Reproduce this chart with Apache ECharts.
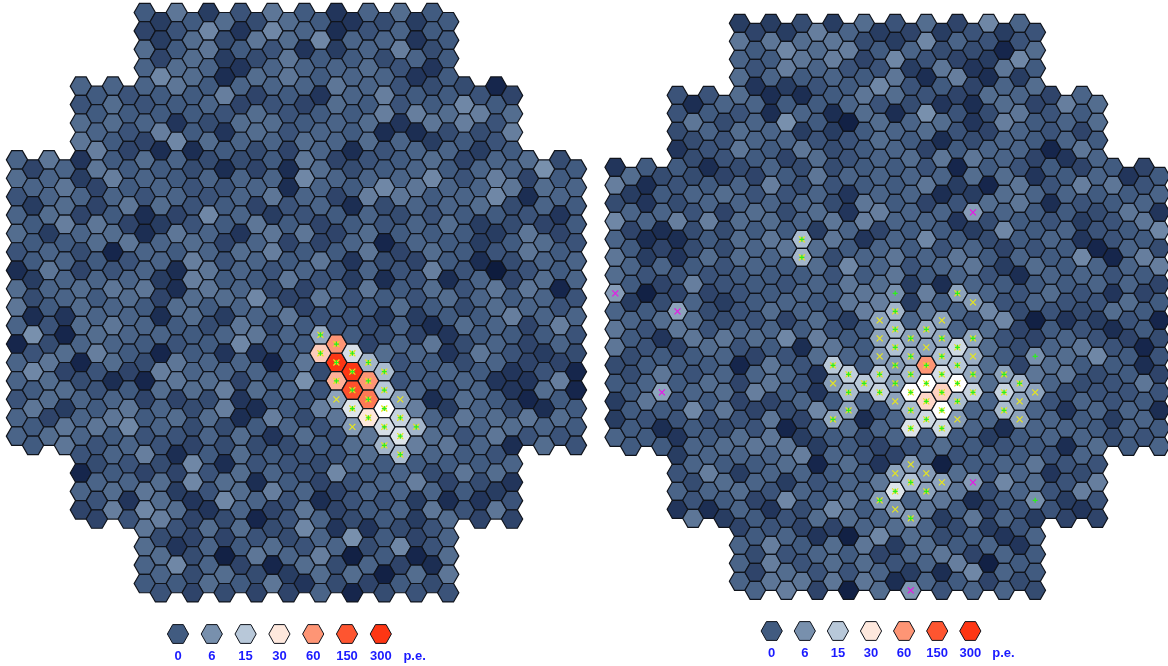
<!DOCTYPE html>
<html><head><meta charset="utf-8">
<style>html,body{margin:0;padding:0;background:#fff}#c{width:1168px;height:666px}</style>
<script src="https://cdn.jsdelivr.net/npm/echarts@6/dist/echarts.min.js"></script>
</head><body><div id="c"></div>
<script>
// Photo-electron values per pixel, listed per camera row (k); even and odd columns apart.
const leftEven = [
[0,3,-4,-1,3,0,-5,1,2,0],[-3,-1,5,-5,5,1,-6,-1,1,0],[2,0,3,0,-1,-5,-4,1,4,-2],[1,2,1,-5,1,1,1,2,-1,-5],
[1,1,1,3,0,1,1,1,3,1,-1,-2,-2,-7],[-1,2,-1,0,1,-3,-1,-3,2,0,-1,0,5,0],[2,2,1,-5,-2,2,2,0,1,2,-5,3,4,-1],[3,0,-3,5,2,1,1,2,1,2,1,-4,0,-1],
[1,3,-5,0,2,1,-2,-2,0,3,-3,-1,0,2,-3,1,2,-2],[2,1,-4,4,1,0,1,1,1,5,1,1,1,5,-1,4,-3,0],[-1,1,1,1,-1,1,-1,1,3,1,-3,4,3,0,1,5,-6,1],
[1,2,-3,0,-6,-3,5,1,-4,-1,0,1,-2,-1,0,0,-1,-5],[2,-4,1,2,-6,3,1,-5,3,3,-3,2,0,0,0,-4,3,-3],[-1,1,-2,-7,1,0,1,2,4,0,0,3,-3,2,0,-1,3,0],
[-6,3,-3,-1,1,-6,3,1,-1,1,-1,1,-1,4,-1,-9,-1,0],[2,1,2,3,3,-6,3,1,-2,-3,1,3,0,2,-1,3,3,-7],[3,0,2,1,0,2,0,1,1,-3,0,0,2,0,-2,2,1,-1],
[1,-1,2,3,1,0,-2,3,-2,0,-1,-2,1,-6,2,1,-3,4],[-7,-2,1,1,0,-1,0,5,-1,0,60,-3,1,3,-2,1,-3,1],[1,3,-7,2,-2,3,1,1,-7,3,300,12,-1,0,-2,1,-3,-3],
[1,2,-2,-6,-7,3,2,-3,0,6,50,60,-1,0,1,-5,-5,4],[-1,2,1,1,-3,-3,-2,-5,0,-1,9,100,9,-6,2,0,-7,0],[1,-3,1,3,0,2,2,-6,4,-2,3,30,17,1,3,2,3,2],[1,2,1,0,-1,-1,1,2,-5,2,-1,3,20,2,-1,3,-1,-1],
[-1,1,4,-6,0,2,0,-1,-1,2,13,1,0,-1],[-7,0,-3,-3,-1,2,1,-1,5,0,1,-2,3,2],[1,2,3,-4,-1,2,4,1,-3,1,1,1,0,-4],[-3,4,5,2,-5,1,-3,3,-3,0,1,3,-1,3],
[3,-1,2,2,-2,5,-5,-5,-2,-1],[2,-5,1,0,2,-1,1,-2,5,-1],[1,5,1,-3,-7,2,-2,1,-3,-6],[0,0,2,0,3,-5,-2,-3,0,-2]];
const leftOdd = [
[-4,0,2,-2,2,0,-5,-2,-4,0],[-4,2,-2,3,2,5,1,1,-5,0],[-3,2,-4,-2,3,0,0,-2,1,0],[5,2,-6,2,3,0,1,1,-5,0],
[0,-1,0,0,4,-3,0,-5,1,4,0,0,-1,-3],[0,0,0,0,-1,2,-1,0,0,4,4,2,4,2],[1,-1,4,0,-5,2,-1,1,0,-6,-6,-2,-2,4],[4,-3,-6,-6,0,-2,-3,1,-6,-1,1,1,-4,0],
[-3,1,3,0,0,-2,-6,-3,-6,2,-2,0,1,0,1,1,6,0],[1,3,-3,0,1,-1,-1,1,-6,1,0,5,3,1,1,3,2,1],[-4,2,-3,3,2,-1,0,-3,-1,1,-6,-2,1,1,2,-2,1,0],
[0,4,3,-3,-4,-1,0,3,0,-3,0,-1,1,2,-4,-2,-3,0],[0,0,2,3,1,2,-3,1,-3,-3,1,-7,1,0,-4,0,2,-1],[0,1,0,-1,1,4,-1,1,0,3,-5,-2,-3,0,-6,-2,1,1],
[-4,1,1,1,-4,4,0,0,3,-1,-4,-6,-1,-6,1,-3,2,1],[-2,1,0,2,-3,2,2,5,-3,3,-1,0,-1,2,1,0,1,-1],[-6,-5,1,1,-6,2,-4,1,3,-1,-1,-4,-4,0,0,4,1,1],
[6,-7,2,1,1,0,1,3,1,10,0,-2,-3,-5,0,0,0,-1],[-1,2,4,0,-7,0,-5,-5,0,40,19,2,1,-5,3,-1,-4,-2],[5,-3,-1,-3,4,1,1,1,0,-2,300,13,0,1,0,-5,-1,-7],
[0,2,-1,0,2,2,4,2,1,-1,170,15,1,-1,1,-5,2,-7],[3,-4,0,3,1,-2,4,-6,0,4,20,26,4,-4,1,-2,-6,0],[0,3,3,5,1,-2,-2,0,1,-1,8,19,12,1,1,2,1,0],[0,3,-1,1,-1,-3,-2,-2,-2,0,2,12,4,3,1,-6,2,-1],
[-2,-1,-2,5,-6,-1,-1,-2,1,0,0,0,0,1],[1,1,2,5,2,-6,0,-3,-1,1,4,-3,-2,-5],[-1,-5,2,-5,5,1,-1,-6,-1,-1,-4,-6,-5,-1],[-3,-1,4,-3,-2,-7,-1,1,-2,0,-4,2,-3,-3],
[-2,-3,-3,-1,-2,1,6,0,-3,1],[2,-2,-8,3,1,4,-8,0,-7,2],[1,-2,2,-2,-4,2,2,-8,2,3],[-1,-3,-2,-3,-3,1,-7,-2,-1,-1]];
const rightEven = [
[-4,-4,-2,-4,2,-1,2,-3,5,1],[3,3,2,3,-2,-4,5,1,-1,-1],[1,0,3,4,-3,5,-1,-3,-4,5],[2,1,0,1,0,3,-6,4,-6,-4],
[-1,-1,2,-6,-6,0,3,2,-1,-3,2,1,-3,1],[-1,0,-1,-6,1,-6,2,-6,6,-1,-2,3,-1,0],[-2,1,2,1,-4,-4,0,1,2,-1,-3,1,-1,-3],[-5,-1,3,0,3,-2,0,1,-3,0,1,1,-7,3],
[-5,0,0,-6,-2,1,-2,-2,0,0,-1,-7,0,-1,0,-3,0,-3],[4,-6,-1,0,1,4,-2,-1,0,0,3,-4,-7,3,-1,4,3,-1],[-2,-5,-2,1,1,1,1,-2,3,0,-3,-1,2,3,-6,-1,0,1],
[5,1,4,4,2,2,1,3,4,1,1,-5,-2,0,-1,-4,-1,3],[1,-6,-6,0,2,3,13,3,-5,1,5,0,-2,0,1,-5,-1,0],[3,-4,-5,2,2,1,12,-2,1,3,1,3,0,1,0,5,-7,4],
[2,-1,-1,-1,0,0,0,-1,0,3,0,1,-1,-6,1,1,-1,0],[8,-8,-3,-3,-1,0,1,0,3,6,4,9,1,-1,2,-1,-5,-3],[1,0,9,-2,-1,2,1,-1,4,12,3,1,5,-2,-1,-2,2,0],
[3,-1,3,-1,1,1,0,-1,0,13,11,1,2,-3,0,-1,-6,0],[3,-1,-3,2,-1,0,-6,3,0,14,9,18,2,-2,1,3,-1,-7],[-2,0,0,0,-7,3,-1,15,0,8,60,15,2,-3,2,0,0,-6],
[0,1,0,2,-3,3,-1,8,15,9,26,26,2,12,1,-2,-1,3],[-4,3,-1,0,-3,-3,1,0,1,9,36,13,1,9,-1,1,-1,0],[-4,-1,-1,-1,-1,3,-3,10,-6,1,18,8,1,9,1,0,-4,1],[1,0,-5,0,2,3,-4,0,-2,1,1,0,-4,0,1,1,-2,-1],
[-4,1,1,1,4,1,-1,-3,1,-1,0,0,-1,1],[-1,4,-4,1,1,0,0,9,8,2,-1,1,-5,-2],[1,1,2,-1,1,0,1,20,9,3,-2,1,-1,4],[-5,-6,1,-5,-2,5,0,7,3,0,-3,-1,-1,-5],
[-3,-1,-3,-3,1,2,1,-2,-4,-1],[1,4,0,2,3,-4,2,0,1,-5],[1,4,-1,2,2,-1,1,4,-8,0],[1,3,3,3,3,-6,1,0,-3,-2]];
const rightOdd = [
[-3,-4,4,1,-4,-3,-4,-1,-4,-1],[0,5,2,4,0,1,-2,-2,-7,2],[-1,4,1,-1,-1,-4,3,-5,3,0],[-5,-4,-1,0,5,-1,0,-3,1,2],
[-6,1,1,0,0,1,-1,-2,-5,-6,2,-3,4,2],[3,-2,1,6,0,-8,2,1,2,-5,4,0,1,2],[-2,-1,1,1,-1,-1,2,0,-6,-2,1,0,1,0],[-2,-1,0,-3,2,-1,1,2,3,3,1,-3,-5,1],
[2,-2,-2,-3,-3,0,3,1,1,1,1,2,2,-5,0,1,-5,0],[-4,0,1,2,-1,-1,1,-5,1,1,-6,-4,2,1,1,0,0,1],[1,1,-1,-3,2,-2,2,-5,4,1,1,8,1,0,0,-2,3,-5],
[-3,-6,-2,-2,0,0,-4,1,-3,0,0,-4,5,0,1,-1,0,5],[0,-3,-2,-2,1,3,2,0,1,0,-1,1,-3,-1,0,-7,1,-2],[1,1,0,-1,1,0,2,5,1,-1,1,3,-4,2,0,1,1,4],
[0,-3,4,-1,0,-1,1,3,2,-4,-6,1,0,0,0,1,1,-3],[-4,-2,1,-4,0,1,0,3,4,-4,0,8,-1,1,-1,-1,2,0],[1,2,2,-2,-1,-3,2,-4,9,1,9,-1,5,-8,-5,-4,-1,-7],
[0,-5,3,3,2,5,4,0,9,9,10,10,-1,-3,1,-1,-3,-2],[-2,0,0,1,-3,-1,2,1,8,11,14,11,0,6,2,5,0,-1],[-2,3,-1,1,1,1,-5,16,15,13,19,10,9,3,3,-2,0,-3],
[0,9,1,2,4,0,-5,13,17,26,38,17,17,9,-2,-1,-1,-1],[0,0,5,3,-3,-2,5,9,-1,13,26,1,13,1,-5,1,1,-6],[0,-6,0,-2,-1,-7,0,2,1,20,18,1,-6,1,1,0,1,0],[0,0,1,2,3,3,-4,0,-3,-1,2,0,-1,0,-6,2,0,1],
[1,0,0,2,-7,2,-5,8,-8,0,1,3,-1,-1],[-2,2,1,-4,-1,1,3,14,9,8,5,2,-1,4],[-1,0,-3,5,0,3,8,1,3,-6,0,6,-4,-1],[3,-4,0,-1,2,2,1,8,-4,3,1,-4,-3,-3],
[0,1,-5,-8,5,2,-2,0,-5,1],[-2,-1,1,0,-3,1,3,-3,1,0],[-3,2,-1,-1,1,-4,-6,5,1,0],[1,4,-3,-8,2,7,-1,1,1,-2]];

// Marked pixels as [column, row]
const leftCross = [[19,17],[20,18],[19,18],[21,18],[20,19],[22,19],[21,19],[23,19],[20,20],[22,20],[21,20],[23,20],[20,21],[22,21],[24,21],[21,21],[23,21],[22,22],[24,22],[21,22],[23,22],[25,22],[24,23],[23,23],[24,24]];
const leftPlus = [[19,17],[20,18],[19,18],[21,18],[20,19],[22,19],[21,19],[23,19],[20,20],[22,20],[21,20],[23,20],[22,21],[21,21],[23,21],[22,22],[24,22],[23,22],[25,22],[24,23],[23,23],[24,24]];
const rightCross = [[12,12],[12,13],[17,16],[17,17],[17,18],[14,19],[15,19],[17,19],[14,20],[16,20],[15,20],[17,20],[15,21],[14,22],[22,15],[23,15],[18,16],[21,16],[18,17],[20,17],[19,17],[21,17],[23,17],[18,18],[20,18],[22,18],[19,18],[21,18],[23,18],[18,19],[20,19],[22,19],[19,19],[21,19],[23,19],[25,19],[18,20],[20,20],[22,20],[26,20],[19,20],[21,20],[23,20],[25,20],[27,20],[18,21],[20,21],[22,21],[26,21],[19,21],[21,21],[25,21],[20,22],[22,22],[26,22],[19,22],[21,22],[19,24],[18,25],[20,25],[19,25],[21,25],[18,26],[20,26],[17,26],[18,27],[19,27]];
const rightPlus = [[18,15],[27,18],[27,26],[12,12],[12,13],[14,19],[15,19],[17,19],[16,20],[15,20],[17,20],[15,21],[14,22],[22,15],[18,16],[18,17],[20,17],[19,17],[21,17],[23,17],[18,18],[22,18],[19,18],[21,18],[18,19],[20,19],[22,19],[19,19],[21,19],[23,19],[25,19],[18,20],[20,20],[22,20],[26,20],[19,20],[21,20],[23,20],[25,20],[20,21],[22,21],[19,21],[21,21],[25,21],[20,22],[19,22],[21,22],[19,25],[18,26],[20,26],[17,26],[19,27]];
const rightMagenta = [[0,15],[4,16],[3,20],[23,10],[23,25],[19,31]];

const legendValues = [0,6,15,30,60,150,300];
const legendLabels = ['0','6','15','30','60','150','300','p.e.'];

const colorStops = [[-9,[14,28,62]],[-7,[22,38,76]],[0,[65,91,128]],[6,[120,144,173]],[15,[184,200,217]],[20,[221,228,234]],[26,[255,255,255]],[30,[254,232,221]],[60,[254,149,117]],[150,[254,85,48]],[300,[254,54,20]]];
function colorOf(v){
  if(v<=colorStops[0][0]) return 'rgb('+colorStops[0][1]+')';
  for(let i=1;i<colorStops.length;i++){
    const a=colorStops[i-1],b=colorStops[i];
    if(v<=b[0]){const t=(v-a[0])/(b[0]-a[0]);
      return 'rgb('+a[1].map((x,j)=>Math.round(x+(b[1][j]-x)*t))+')';}
  }
  return 'rgb('+colorStops[colorStops.length-1][1]+')';
}
const firstCol = {10:8,14:4,18:0};
function cells(even,odd){
  const out=[];
  even.forEach((row,k)=>row.forEach((v,i)=>out.push([firstCol[row.length]+2*i,k,v])));
  odd.forEach((row,k)=>row.forEach((v,i)=>out.push([firstCol[row.length]+1+2*i,k+0.5,v])));
  return out;
}
const place = list => list.map(([c,k])=>[c,c%2?k+0.5:k]);
function hexPoly(cx,cy,r,h){return [[cx-r,cy],[cx-r/2,cy-h],[cx+r/2,cy-h],[cx+r,cy],[cx+r/2,cy+h],[cx-r/2,cy+h]];}
function renderHex(p,api){
  const pt=api.coord([api.value(0),api.value(1)]);
  const r=api.size([1,0])[0]/1.5, h=api.size([0,1])[1]/2;
  return {type:'polygon',shape:{points:hexPoly(pt[0],pt[1],r,h)},
    style:{fill:colorOf(api.value(2)),stroke:'#10141c',lineWidth:1.2}};
}
function renderLegendHex(p,api){
  const pt=api.coord([api.value(0),0]);
  return {type:'polygon',shape:{points:hexPoly(pt[0],pt[1],10.6,9.4)},
    style:{fill:colorOf(api.value(1)),stroke:'#10141c',lineWidth:1}};
}
const xMark='path://M0,0L10,10M10,0L0,10', plusMark='path://M5,0L5,10M0,5L10,5';
function marks(data,idx,symbol,color,size){
  return {type:'scatter',xAxisIndex:idx,yAxisIndex:idx,data:place(data),symbol:symbol,symbolSize:size,silent:true,
    itemStyle:{color:'none',borderColor:color,borderWidth:1.2,opacity:1},z:5};
}
const LY='#e6e61e', LG='#2cf01a', MG='#e619e6';
const valueAxisHidden={type:'value',show:false,scale:false};
const chart=echarts.init(document.getElementById('c'),null,{renderer:'canvas'});
chart.setOption({
  animation:false,backgroundColor:'#fff',
  grid:[
    {left:1.03,top:3.29,width:590.89,height:598.65},
    {left:599.75,top:14.3,width:567.6,height:585},
    {left:161.1,top:624,width:270.4,height:20},
    {left:755.15,top:621,width:264.8,height:20}
  ],
  xAxis:[
    {...valueAxisHidden,gridIndex:0,min:-1,max:36},
    {...valueAxisHidden,gridIndex:1,min:-1,max:35.5},
    ...[2,3].map(i=>({type:'category',gridIndex:i,data:legendLabels,axisLine:{show:false},axisTick:{show:false},splitLine:{show:false},
      axisLabel:{interval:0,margin:6,color:'#1a1aff',fontFamily:'"Liberation Sans",Arial,sans-serif',fontWeight:'bold',fontSize:13}}))
  ],
  yAxis:[
    {...valueAxisHidden,gridIndex:0,min:-0.5,max:32,inverse:true},
    {...valueAxisHidden,gridIndex:1,min:-0.5,max:32,inverse:true},
    {...valueAxisHidden,gridIndex:2,min:-1,max:1},
    {...valueAxisHidden,gridIndex:3,min:-1,max:1}
  ],
  series:[
    {type:'custom',xAxisIndex:0,yAxisIndex:0,coordinateSystem:'cartesian2d',clip:false,silent:true,data:cells(leftEven,leftOdd),renderItem:renderHex,encode:{x:0,y:1}},
    {type:'custom',xAxisIndex:1,yAxisIndex:1,coordinateSystem:'cartesian2d',clip:false,silent:true,data:cells(rightEven,rightOdd),renderItem:renderHex,encode:{x:0,y:1}},
    marks(leftCross,0,xMark,LY,6),marks(leftPlus,0,plusMark,LG,5),
    marks(rightCross,1,xMark,LY,6),marks(rightPlus,1,plusMark,LG,5),marks(rightMagenta,1,xMark,MG,6),
    ...[2,3].map(i=>({type:'custom',xAxisIndex:i,yAxisIndex:i,coordinateSystem:'cartesian2d',silent:true,clip:false,
      data:legendValues.map((v,j)=>[j,v]),renderItem:renderLegendHex,encode:{x:0,y:1}}))
  ]
});
</script></body></html>
